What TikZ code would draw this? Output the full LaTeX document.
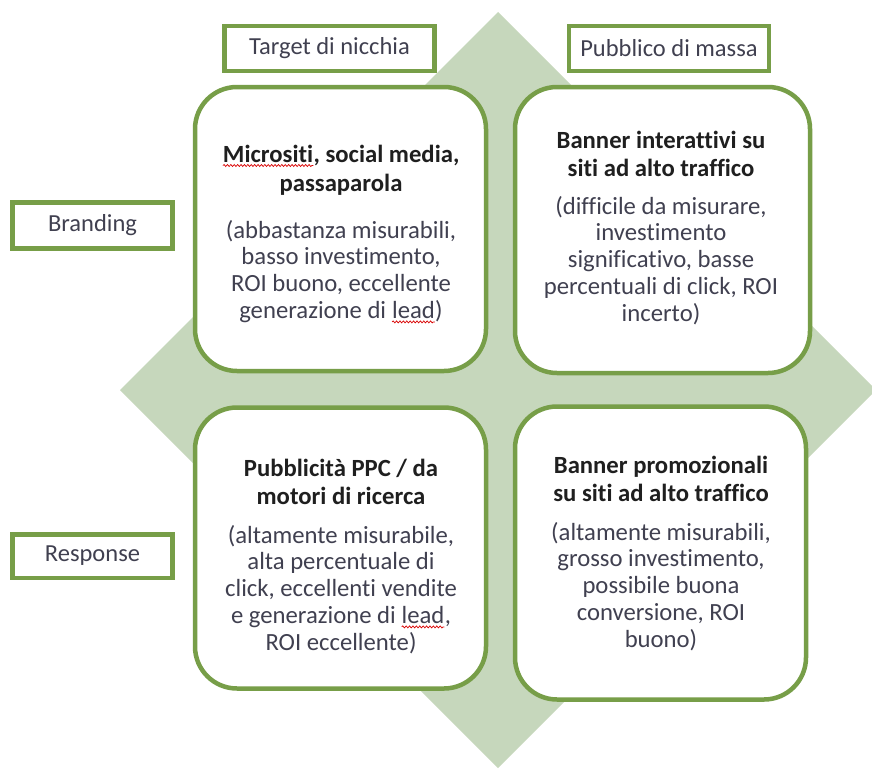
\documentclass[tikz,border=0pt]{standalone}
\usepackage{fontspec}
\setmainfont{Carlito}[Ligatures=CommonOff]
\usetikzlibrary{decorations.pathmorphing}
\definecolor{gline}{RGB}{119,158,72}
\definecolor{gfill}{RGB}{198,215,188}
\definecolor{txt}{RGB}{64,64,80}
\newcommand\redwave[1]{\tikz[baseline=(wv.base)]{\node[inner sep=0pt, outer sep=0pt] (wv) {#1};
  \draw[red!85!black, line width=0.7pt, decorate, decoration={snake, amplitude=1pt, segment length=3.4pt}]
    ([yshift=-3.5pt]wv.base west) -- ([yshift=-3.5pt]wv.base east);}}
\newcommand\tblock[2]{\parbox[t]{320pt}{\centering\fontsize{24.7}{#1}\selectfont #2}}
\tikzset{
  labelbox/.style={draw=gline, line width=4.5pt, fill=white, inner sep=0pt,
    font=\fontsize{24.5}{30}\selectfont, text=txt},
  cellbox/.style={draw=gline, line width=4.5pt, fill=white, rounded corners=42pt, inner sep=0pt},
  celltitle/.style={anchor=base, inner sep=0pt, text=black!88, font=\bfseries},
  cellbody/.style={anchor=base, inner sep=0pt, text=txt},
}
\begin{document}
\begin{tikzpicture}[x=1pt,y=-1pt]
\useasboundingbox (0,0) rectangle (872,768);
\fill[white] (0,0) rectangle (872,768);
% background diamond
\fill[gfill] (498,12) -- (876,390) -- (498,768) -- (120,390) -- cycle;
% axis labels
\node[labelbox, minimum width=210pt, minimum height=44.5pt] (tgt) at (329.5,48.5) {Target di nicchia};
\node[labelbox, minimum width=200pt, minimum height=44.5pt] (pub) at (669,48.5) {Pubblico di massa};
\node[labelbox, minimum width=160pt, minimum height=46pt] (brd) at (92.5,225.5) {Branding};
\node[labelbox, minimum width=160pt, minimum height=43.5pt] (rsp) at (92.5,556) {Response};
% cells
\node[cellbox, minimum width=291pt, minimum height=284pt] (tl) at (340.5,229) {};
\node[cellbox, minimum width=295pt, minimum height=286pt] (tr) at (662.5,230) {};
\node[cellbox, minimum width=291pt, minimum height=281pt] (bl) at (340.5,548) {};
\node[cellbox, minimum width=291pt, minimum height=293pt] (br) at (660.5,553) {};
% texts
\node[celltitle] (tlT) at (341,162) {\tblock{29}{\redwave{Micrositi}, social media,\\passaparola}};
\node[cellbody] (tlB) at (341,238) {\tblock{26.8}{(abbastanza misurabili,\\basso investimento,\\ROI buono, eccellente\\generazione di \redwave{lead})}};
\node[celltitle] (trT) at (661,148) {\tblock{28}{Banner interattivi su\\siti ad alto traffico}};
\node[cellbody] (trB) at (661,214) {\tblock{26.8}{(difficile da misurare,\\investimento\\significativo, basse\\percentuali di click, ROI\\incerto)}};
\node[celltitle] (blT) at (341,476.5) {\tblock{28}{Pubblicità PPC / da\\motori di ricerca}};
\node[cellbody] (blB) at (341,543) {\tblock{26.8}{(altamente misurabile,\\alta percentuale di\\click, eccellenti vendite\\e generazione di \redwave{lead},\\ROI eccellente)}};
\node[celltitle] (brT) at (661,473) {\tblock{28}{Banner promozionali\\su siti ad alto traffico}};
\node[cellbody] (brB) at (661,540) {\tblock{26.8}{(altamente misurabili,\\grosso investimento,\\possibile buona\\conversione, ROI\\buono)}};
\end{tikzpicture}
\end{document}
